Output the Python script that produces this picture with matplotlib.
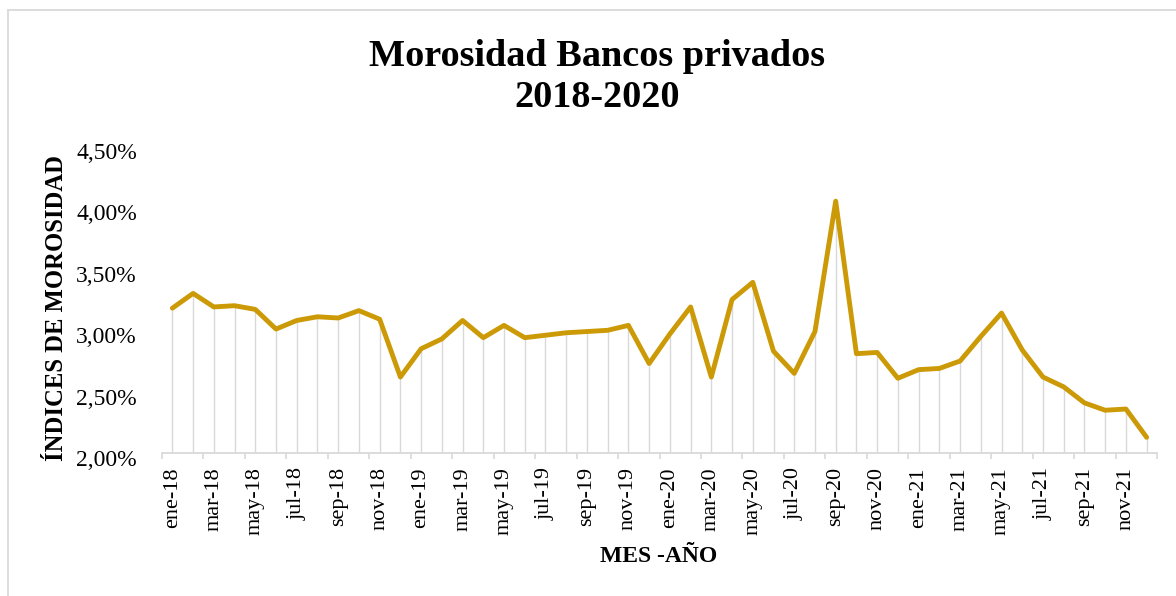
import numpy as np
import matplotlib.pyplot as plt
import matplotlib.transforms as mtransforms
from matplotlib.lines import Line2D

# Monthly delinquency index, private banks (percent)
months = ["ene", "feb", "mar", "abr", "may", "jun",
          "jul", "ago", "sep", "oct", "nov", "dic"]
years = ["18", "19", "20", "21"]
periods = [f"{m}-{y}" for y in years for m in months]

morosidad = [
    3.18, 3.30, 3.19, 3.20, 3.17, 3.01, 3.08, 3.11, 3.10, 3.16, 3.09, 2.62,
    2.85, 2.93, 3.08, 2.94, 3.04, 2.94, 2.96, 2.98, 2.99, 3.00, 3.04, 2.73,
    2.97, 3.19, 2.62, 3.25, 3.39, 2.83, 2.65, 2.99, 4.05, 2.81, 2.82, 2.61,
    2.68, 2.69, 2.75, 2.95, 3.14, 2.84, 2.62, 2.54, 2.41, 2.35, 2.36, 2.13,
]

y_ticks = [2.0, 2.5, 3.0, 3.5, 4.0, 4.5]

plt.rcParams["font.family"] = ["Liberation Serif", "DejaVu Serif"]

W, H = 1176, 596
fig = plt.figure(figsize=(W / 100, H / 100), dpi=100)
ax = fig.add_axes([162 / W, 1 - 453.3 / H, 995 / W, (453.3 - 145.8) / H])

x = np.arange(len(periods))
gold = "#CC9A06"
grid = "#D9D9D9"

# drop lines from each point down to the base
ax.vlines(x, y_ticks[0], morosidad, color=grid, lw=1.0, zorder=1)
ax.plot(x, morosidad, color=gold, lw=3.5, solid_joinstyle="round",
        solid_capstyle="round", zorder=3)

ax.set_xlim(-0.5, len(periods) - 0.5)
ax.set_ylim(y_ticks[0], y_ticks[-1])

# labels every second month, tick marks on the category boundaries
ax.set_xticks(x[::2])
ax.set_xticklabels(periods[::2], rotation=90, fontsize=16)
ax.set_xticks(np.arange(-0.5, len(periods), 2), minor=True)
ax.tick_params(axis="x", which="major", length=0, pad=10)
ax.tick_params(axis="x", which="minor", length=4.5, color=grid, width=1.2)

ax.set_yticks(y_ticks)
ax.set_yticklabels([f"{v:.2f}%".replace(".", ",") for v in y_ticks], fontsize=17)
ax.tick_params(axis="y", length=0, pad=18)
shift = mtransforms.ScaledTranslation(0, -5 / 100, fig.dpi_scale_trans)
for lbl in ax.get_yticklabels():
    lbl.set_transform(lbl.get_transform() + shift)

for side in ["top", "right", "left"]:
    ax.spines[side].set_visible(False)
ax.spines["bottom"].set_color(grid)
ax.spines["bottom"].set_linewidth(1.3)

fig.text(597 / W, 1 - 77 / H, "Morosidad Bancos privados\n2018-2020",
         ha="center", va="center", fontsize=27.5, fontweight="bold",
         linespacing=1.25)
fig.text(57 / W, 1 - 308 / H, "ÍNDICES DE MOROSIDAD", rotation=90,
         ha="center", va="center", fontsize=17.7, fontweight="bold")
fig.text(659 / W, 1 - 557 / H, "MES -AÑO", ha="center", va="center",
         fontsize=17, fontweight="bold")

# chart area frame (left and top edges)
fig.add_artist(Line2D([8 / W, 8 / W], [0, 1 - 10 / H], transform=fig.transFigure,
                      color=grid, lw=1.3))
fig.add_artist(Line2D([8 / W, 1], [1 - 10 / H, 1 - 10 / H], transform=fig.transFigure,
                      color=grid, lw=1.3))

fig.savefig("out.png", dpi=100)
